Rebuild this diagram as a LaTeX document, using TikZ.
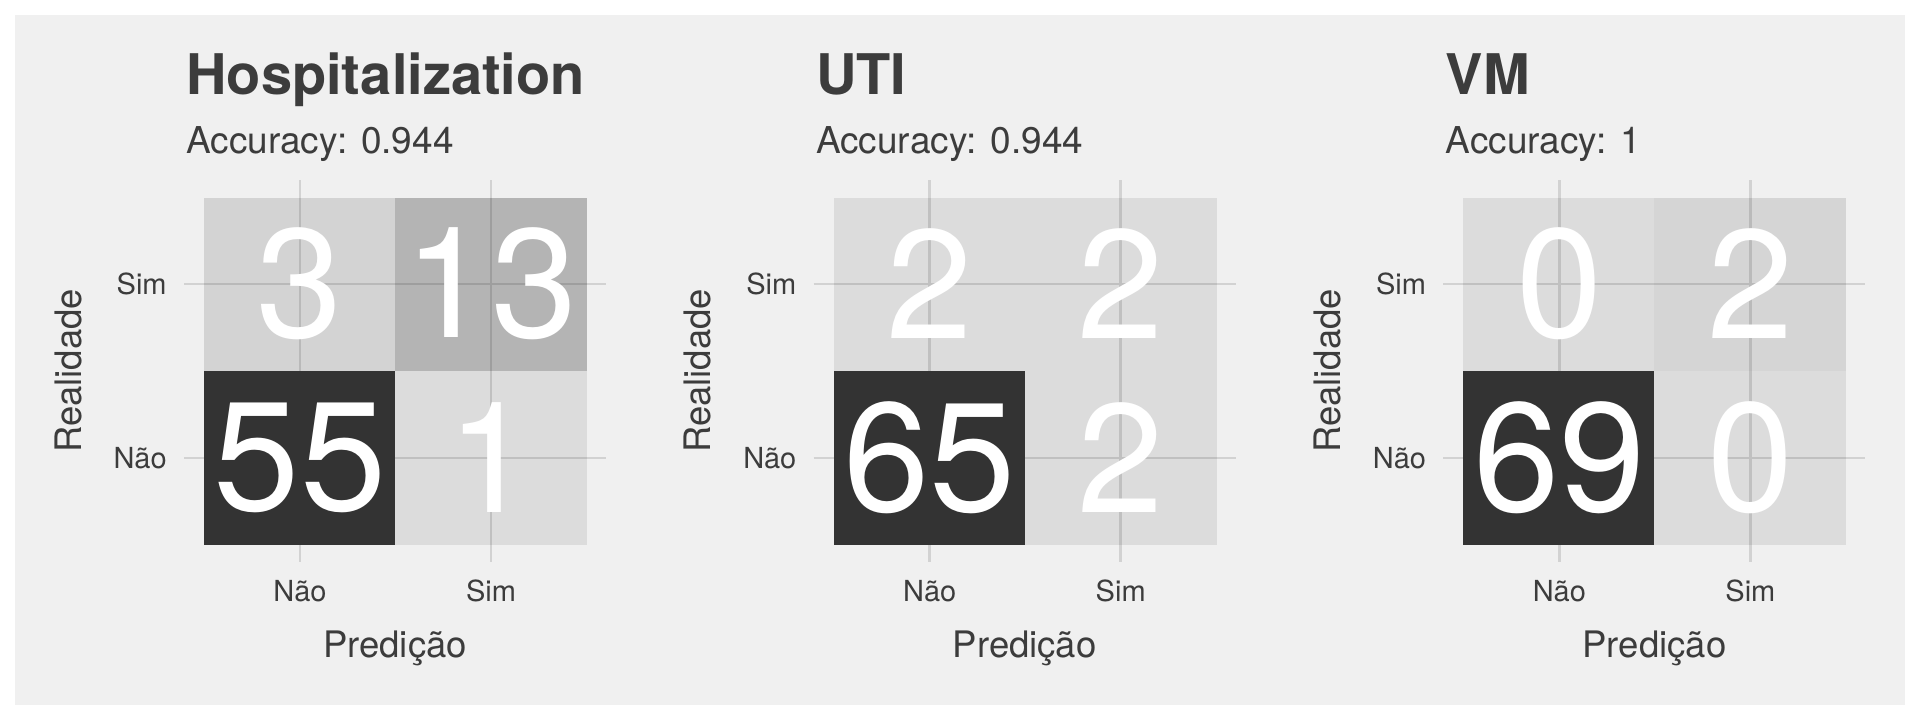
\documentclass[tikz,border=0pt]{standalone}
\usepackage{fontspec}
\setmainfont{TeX Gyre Heros}
\definecolor{panelbg}{HTML}{F0F0F0}
\definecolor{ink}{HTML}{3C3C3C}
\definecolor{gridc}{HTML}{D2D2D2}
\definecolor{darktile}{HTML}{333333}
\begin{document}
\begin{tikzpicture}[x=0.5pt, y=-0.5pt,
    title/.style={anchor=base west, inner sep=0, text=ink, font=\fontsize{28}{30}\selectfont\bfseries},
    subtitle/.style={anchor=base west, inner sep=0, text=ink, font=\fontsize{18.5}{20}\selectfont},
    ticklabel/.style={inner sep=0, text=ink, font=\fontsize{14.5}{16}\selectfont},
    axistitle/.style={anchor=base, inner sep=0, text=ink, font=\fontsize{18.25}{20}\selectfont},
    count/.style={inner sep=0, text=white, font=\fontsize{77.5}{80}\selectfont},
    gridline/.style={draw=gridc, line width=1.25pt},
    tile/.style={fill=black, fill opacity=#1}]
    \useasboundingbox (0,0) rectangle (1920,720);
    \fill[white] (0,0) rectangle (1920,720);
    \fill[panelbg] (15,15) rectangle (1905,705);
    % one confusion matrix per outcome
    \foreach \p/\name/\acc/\a/\b/\c/\d/\oa/\ob/\od [count=\k from 0] in
        {hosp/Hospitalization/0.944/3/13/55/1/0.117/0.246/0.083,
         uti/UTI/0.944/2/2/65/2/0.083/0.083/0.083,
         vm/VM/1/0/2/69/0/0.083/0.108/0.083} {
    \begin{scope}[xshift=\k*314.85pt]
        \node[title] (title-\p) at (186,94) {\name};
        \node[subtitle] (acc-\p) at (186,153) {Accuracy: \acc};
        % grid
        \coordinate (gx1-\p) at (300,180); \coordinate (gx1e-\p) at (300,562);
        \coordinate (gx2-\p) at (491,180); \coordinate (gx2e-\p) at (491,562);
        \coordinate (gy1-\p) at (184,284); \coordinate (gy1e-\p) at (606,284);
        \coordinate (gy2-\p) at (184,458); \coordinate (gy2e-\p) at (606,458);
        \draw[gridline] (gx1-\p) -- (gx1e-\p);
        \draw[gridline] (gx2-\p) -- (gx2e-\p);
        \draw[gridline] (gy1-\p) -- (gy1e-\p);
        \draw[gridline] (gy2-\p) -- (gy2e-\p);
        % tiles
        \fill[tile=\oa] (204,198) rectangle (395,371);
        \fill[tile=\ob] (395,198) rectangle (587,371);
        \fill[darktile] (204,371) rectangle (395,545);
        \fill[tile=\od] (395,371) rectangle (587,545);
        \node[count] (ss-\p) at (300,284) {\a};
        \node[count] (sn-\p) at (491,284) {\b};
        \node[count] (nn-\p) at (300,458) {\c};
        \node[count] (ns-\p) at (491,458) {\d};
        % axes
        \node[ticklabel, anchor=base east] (ysim-\p) at (167,294) {Sim};
        \node[ticklabel, anchor=base east] (ynao-\p) at (167,468) {Não};
        \node[ticklabel, anchor=base] (xnao-\p) at (300,601) {Não};
        \node[ticklabel, anchor=base] (xsim-\p) at (491,601) {Sim};
        \node[axistitle] (xlab-\p) at (395,657) {Predição};
        \node[axistitle, rotate=90] (ylab-\p) at (81,371) {Realidade};
    \end{scope}
    }
\end{tikzpicture}
\end{document}
